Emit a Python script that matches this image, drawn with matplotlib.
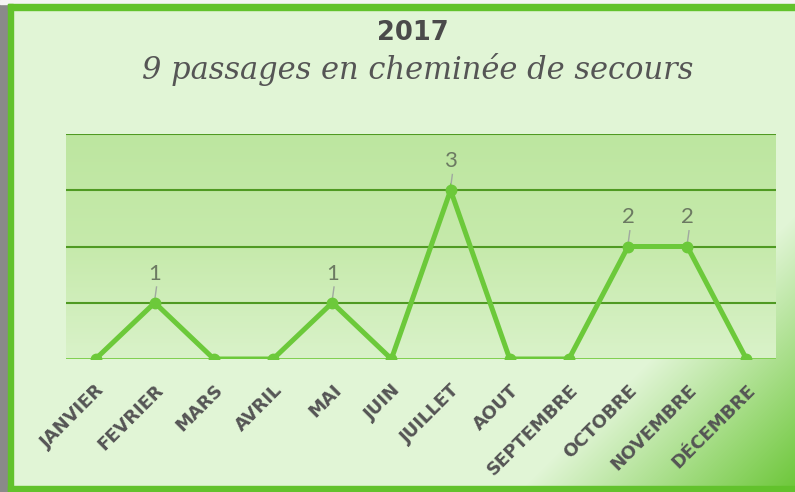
import numpy as np
import matplotlib
matplotlib.use("Agg")
import matplotlib.pyplot as plt
from matplotlib.colors import LinearSegmentedColormap
from matplotlib.patches import Rectangle

months = ["JANVIER", "FEVRIER", "MARS", "AVRIL", "MAI", "JUIN", "JUILLET",
          "AOUT", "SEPTEMBRE", "OCTOBRE", "NOVEMBRE", "DÉCEMBRE"]
values = [0, 1, 0, 0, 1, 0, 3, 0, 0, 2, 2, 0]
title = "2017"
subtitle = "9 passages en cheminée de secours"

W, H = 795, 492
fig = plt.figure(figsize=(W / 100, H / 100), dpi=100)

# figure background with bottom-right green gradient
bg = fig.add_axes([0, 0, 1, 1], zorder=-10)
yy, xx = np.mgrid[0:H, 0:W]
t = np.clip((xx + 1.0 * yy - 1010) / 290.0, 0, 1)
c0 = np.array([0xe1, 0xf5, 0xd6]) / 255
c1 = np.array([0x66, 0xc4, 0x30]) / 255
img = c0[None, None, :] * (1 - t[..., None]) + c1[None, None, :] * t[..., None]
bg.imshow(img, extent=[0, W, H, 0], aspect="auto")
bg.set_xlim(0, W)
bg.set_ylim(H, 0)
bg.axis("off")
# outer strips and border
bg.add_patch(Rectangle((0, 0), 8, H, color="#8a8a8a", zorder=5))
bg.add_patch(Rectangle((0, 0), W, 4, color="#f4f4f4", zorder=5))
bg.add_patch(Rectangle((8, 4), W, 6, color="#62c22c", zorder=6))
bg.add_patch(Rectangle((8, 4), 5, H, color="#62c22c", zorder=6))
bg.add_patch(Rectangle((8, 486), W, 6, color="#62c22c", zorder=6))

ax = fig.add_axes([66 / W, 1 - 359 / H, (776 - 66) / W, (359 - 134) / H])
ax.set_facecolor("none")
x = np.arange(len(months))
ax.set_xlim(-0.5, len(months) - 0.5)
ax.set_ylim(0, 4)

# plot area gradient
cmap = LinearSegmentedColormap.from_list("pa", ["#d9f2c9", "#c6eaab", "#bde6a0"])
grad = np.linspace(0, 1, 100).reshape(-1, 1)
ax.imshow(grad, extent=[-0.5, len(months) - 0.5, 0, 4], origin="lower",
          aspect="auto", cmap=cmap, zorder=0)

for gy in [1, 2, 3, 4]:
    ax.axhline(gy, color="#4f9a22", lw=1.5, zorder=1)
ax.axhline(0, color="#78cc45", lw=2, zorder=1)

ax.plot(x, values, color="#6cc93a", lw=3.6, marker="o", markersize=7.5,
        zorder=3, solid_joinstyle="miter")

for xi, v in zip(x, values):
    if v > 0:
        ax.plot([xi, xi + 0.03], [v + 0.05, v + 0.28], color="#a0a8a0", lw=1, zorder=2)
        ax.text(xi, v + 0.34, str(v), ha="center", va="bottom", fontsize=16,
                color="#6c7a62", zorder=4, family="Lato")

for s in ax.spines.values():
    s.set_visible(False)
ax.set_yticks([])
ax.set_xticks(x)
ax.set_xticklabels(months, rotation=45, ha="right", va="top",
                   rotation_mode="anchor", fontsize=13, fontweight="bold",
                   color="#555555")
ax.tick_params(axis="x", length=0, pad=16)

fig.text(413 / W, 1 - 33 / H, title, ha="center", va="center", fontsize=18.5,
         fontweight="bold", color="#4a4a4a")
fig.text(418 / W, 1 - 70 / H, subtitle, ha="center", va="center", fontsize=22,
         style="italic", color="#555555", family="DejaVu Serif")

fig.savefig("out.png", dpi=100)
